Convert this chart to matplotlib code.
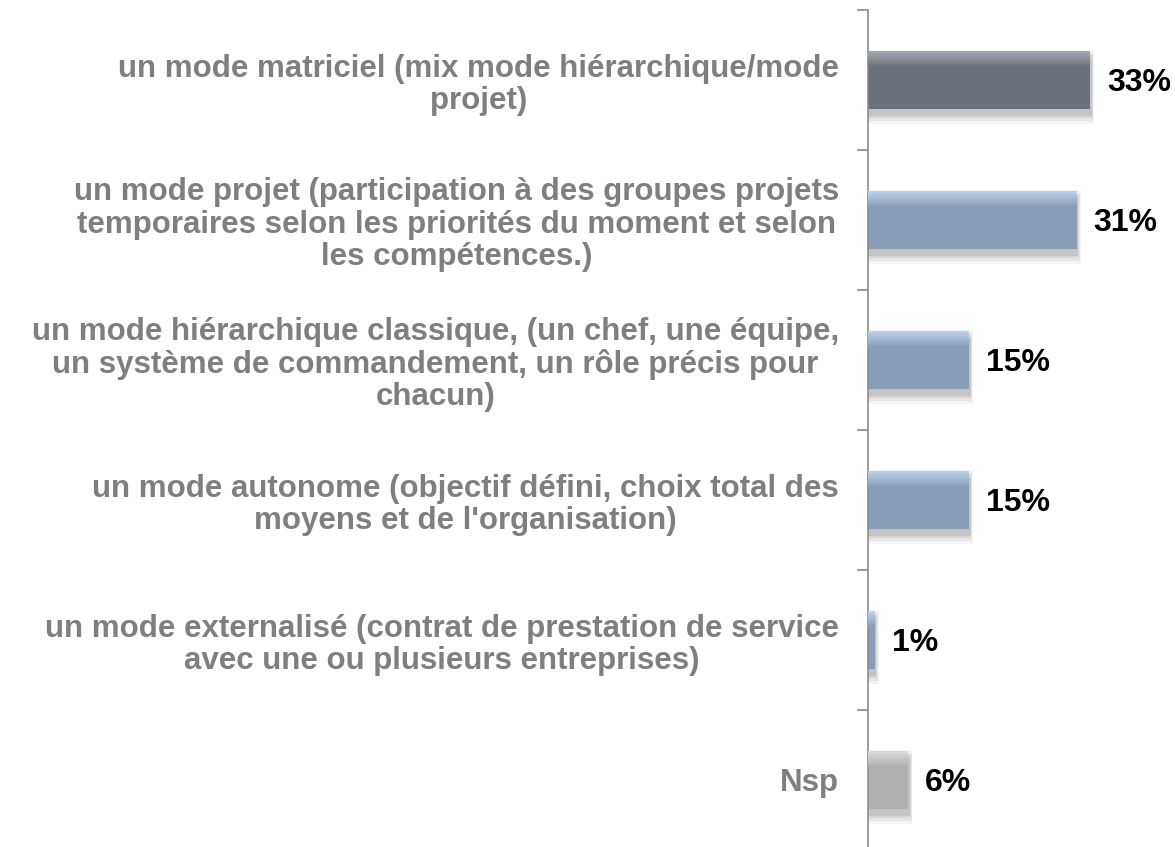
import matplotlib.pyplot as plt
import numpy as np
from matplotlib.colors import to_rgb

plt.rcParams["font.family"] = ["Liberation Sans", "DejaVu Sans"]

# categories, top to bottom
labels = [
    "un mode matriciel (mix mode hiérarchique/mode\nprojet)",
    "un mode projet (participation à des groupes projets\ntemporaires selon les priorités du moment et selon\nles compétences.)",
    "un mode hiérarchique classique, (un chef, une équipe,\nun système de commandement, un rôle précis pour\nchacun)",
    "un mode autonome (objectif défini, choix total des\nmoyens et de l'organisation)",
    "un mode externalisé (contrat de prestation de service\navec une ou plusieurs entreprises)",
    "Nsp",
]
values = [33, 31, 15, 15, 1, 6]
value_labels = ["33%", "31%", "15%", "15%", "1%", "6%"]

base_colors = ["#6c727c", "#8a9db8", "#8a9db8", "#8a9db8", "#8a9db8", "#b0b0b0"]
light_colors = ["#a2a6ad", "#bccfe8", "#bccfe8", "#bccfe8", "#bccfe8", "#dadada"]

fig = plt.figure(figsize=(11.75, 8.47), dpi=100)
ax = fig.add_axes([868 / 1175, -3 / 847, 1 - 868 / 1175, 840 / 847])

y = np.arange(len(values))
h = 0.41

# soft drop shadow under each bar
for s, a in [(0.12, 0.04), (0.08, 0.06), (0.04, 0.07), (0.0, 0.08)]:
    ax.barh(y + 0.05, [v + 0.25 + s * 3 for v in values], height=h + s,
            color="black", alpha=a, zorder=1, linewidth=0)

# bar body
ax.barh(y, values, height=h, color=base_colors, zorder=2, linewidth=0)

# lighter band fading at the top of each bar
n = 10
band = 0.28 * h
for k in range(n):
    t = k / (n - 1)
    cols = [tuple(np.array(to_rgb(lc)) * (1 - t) + np.array(to_rgb(bc)) * t)
            for lc, bc in zip(light_colors, base_colors)]
    y0 = y - h / 2 + band * k / n
    ax.barh(y0 + band / n / 2, values, height=band / n * 1.05, color=cols,
            zorder=3, linewidth=0)

for yi, v, t in zip(y, values, value_labels):
    ax.text(v + 2.5, yi + 0.02, t, va="center", ha="left", fontsize=23,
            fontweight="bold", color="black")

ax.set_xlim(0, (1175 - 868) / 6.73)
ax.set_ylim(5.5, -0.5)

ax.set_yticks(np.arange(-0.5, 6.0, 1.0))
ax.set_yticks(y, minor=True)
ax.set_yticklabels([])
ax.set_yticklabels(labels, minor=True, fontsize=22.5, fontweight="bold",
                   color="#7f7f7f", multialignment="center", linespacing=1.1)
ax.tick_params(axis="y", which="major", length=8, width=1.2, color="#8c8c8c",
               direction="out")
ax.tick_params(axis="y", which="minor", length=0, pad=21)
ax.set_xticks([])

for side in ["top", "right", "bottom"]:
    ax.spines[side].set_visible(False)
ax.spines["left"].set_color("#8c8c8c")
ax.spines["left"].set_linewidth(1.2)
ax.patch.set_alpha(0)

fig.savefig("out.png", dpi=100)
